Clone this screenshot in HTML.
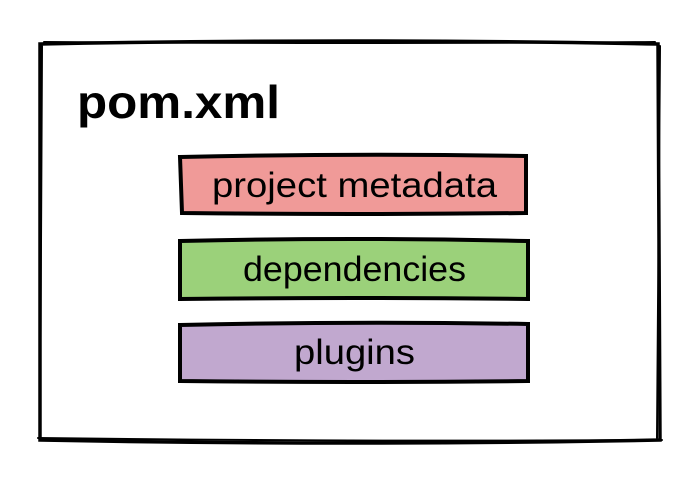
<!DOCTYPE html>
<html><head><meta charset="utf-8"><style>
html,body{margin:0;padding:0;background:#fff;width:700px;height:488px;overflow:hidden}
text{font-family:"Liberation Sans","DejaVu Sans",sans-serif;fill:#000}
</style></head><body>
<svg width="700" height="488" viewBox="0 0 700 488" xmlns="http://www.w3.org/2000/svg">
<g fill="none" stroke="#000" stroke-width="3.5" stroke-linecap="round">
<path d="M40 44 Q350 38 658 44 L660 440 Q350 446 40 440 Z"/>
<path d="M44 42 Q350 44 655 42 M660 46 L657 438 M38 438 Q350 442 662 440 M42 46 L40 436" stroke-width="2"/>
</g>
<text x="77" y="118" font-size="46" font-weight="bold" textLength="203" lengthAdjust="spacingAndGlyphs">pom.xml</text>
<g stroke="#000" stroke-width="4" stroke-linecap="round">
<path d="M180 157 Q350 153 526 156 L526 213 Q350 215 182 213 Z" fill="#f09a98"/>
<path d="M180 241 Q350 237 528 241 L528 299 Q350 297 180 299 Z" fill="#9bd17a"/>
<path d="M180 325 Q350 321 528 324 L528 381 Q350 383 180 381 Z" fill="#c1a8cf"/>
</g>
<g font-size="35">
<text x="212" y="197" textLength="285" lengthAdjust="spacingAndGlyphs">project metadata</text>
<text x="243" y="281" textLength="223" lengthAdjust="spacingAndGlyphs">dependencies</text>
<text x="294" y="364" textLength="121" lengthAdjust="spacingAndGlyphs">plugins</text>
</g>
</svg>
</body></html>
